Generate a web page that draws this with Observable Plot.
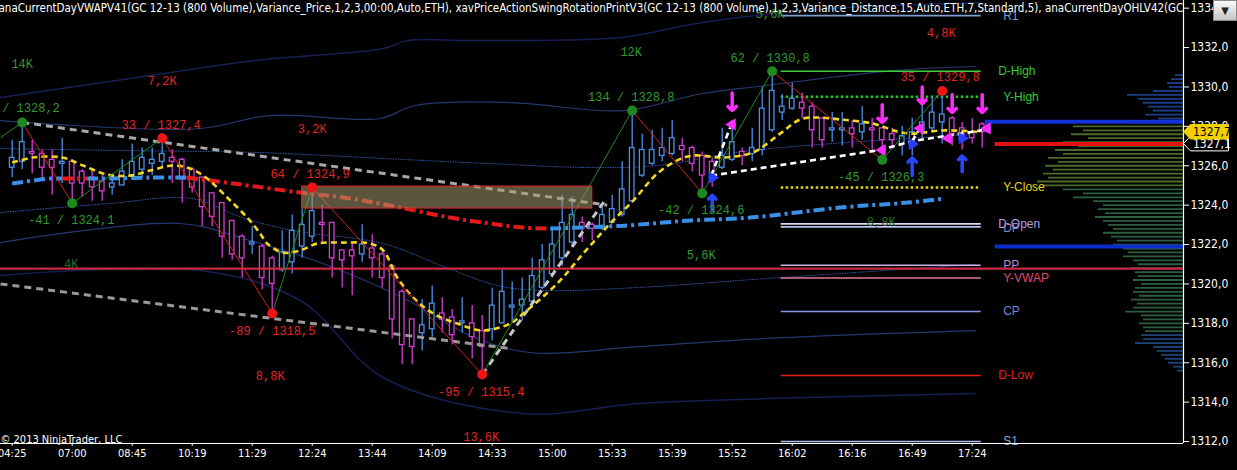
<!DOCTYPE html>
<html><head><meta charset="utf-8">
<script src="https://cdn.jsdelivr.net/npm/d3@7"></script>
<script src="https://cdn.jsdelivr.net/npm/@observablehq/plot@0.6"></script>
<style>
html,body{margin:0;padding:0;background:#000;overflow:hidden}
#wrap{position:relative;width:1237px;height:470px}
#wrap svg{position:absolute;left:0;top:0}
#btn{position:absolute;z-index:3;left:1213px;top:0;width:24px;height:21px;background:linear-gradient(#fafafa,#c4c4c4);border:1px solid #8a8a8a;box-sizing:border-box;font:10px "DejaVu Sans",sans-serif;color:#222;text-align:center;line-height:19px}
</style></head>
<body><div id="wrap"><div id="btn">▼</div></div>
<script>
// ---------------- data ----------------
const opens  = [1325.9,1326.2,1326.7,1326.6,1326.3,1326.1,1326.2,1325.7,1325.4,1325.2,1324.9,1325.0,1325.5,1325.8,1326.1,1326.2,1326.4,1326.3,1325.8,1325.4,1324.6,1324.1,1323.2,1322.4,1322.0,1321.9,1321.3,1320.7,1321.1,1321.9,1322.4,1323.1,1323.1,1321.7,1321.7,1321.5,1321.8,1321.5,1320.9,1319.6,1318.2,1317.5,1317.7,1318.5,1318.3,1318.0,1318.0,1317.6,1317.7,1318.0,1318.8,1318.9,1319.1,1319.8,1320.5,1321.3,1322.1,1323.1,1323.0,1322.8,1323.1,1323.5,1324.2,1325.5,1326.1,1326.5,1326.6,1327.0,1326.9,1326.5,1326.2,1325.9,1326.3,1326.7,1326.6,1326.8,1327.8,1328.7,1328.9,1329.2,1329.0,1328.4,1327.8,1327.8,1327.9,1327.7,1327.9,1327.9,1327.6,1327.1,1327.2,1327.7,1327.9,1328.2,1328.4,1327.9,1327.7,1328.1];
const highs  = [1327.3,1328.2,1327.3,1326.8,1326.8,1327.4,1326.3,1325.8,1325.8,1325.5,1325.6,1326.3,1327.1,1326.9,1326.9,1327.4,1326.8,1326.4,1325.9,1325.4,1324.6,1324.1,1323.2,1322.5,1322.9,1322.0,1321.4,1322.7,1323.5,1323.8,1324.9,1324.0,1323.1,1321.7,1322.1,1323.0,1322.5,1321.6,1321.0,1319.7,1318.2,1319.2,1319.9,1319.3,1318.7,1319.3,1318.9,1318.4,1319.8,1320.7,1320.1,1320.3,1321.3,1322.0,1322.9,1324.5,1324.4,1323.4,1323.1,1324.0,1324.5,1326.2,1328.8,1327.6,1327.8,1327.9,1328.3,1327.4,1327.0,1326.7,1326.4,1327.9,1328.3,1326.9,1327.9,1330.0,1330.8,1329.6,1330.2,1329.7,1329.2,1328.4,1328.7,1328.7,1328.3,1329.0,1328.4,1327.9,1327.9,1328.0,1328.4,1329.4,1329.5,1329.8,1328.5,1328.2,1328.4,1328.2];
const lows   = [1325.4,1325.8,1325.6,1325.3,1324.5,1325.1,1324.1,1324.4,1324.2,1324.2,1324.5,1325.0,1325.4,1325.4,1325.5,1325.9,1325.1,1324.1,1324.6,1322.9,1322.9,1321.3,1321.2,1320.3,1321.5,1319.7,1318.5,1320.6,1320.5,1321.3,1322.1,1322.0,1320.3,1319.8,1319.4,1321.1,1320.3,1319.8,1317.2,1315.9,1315.9,1316.6,1317.3,1317.5,1316.9,1317.5,1316.2,1315.4,1317.1,1318.0,1318.0,1318.1,1318.8,1319.7,1320.3,1320.9,1321.9,1322.1,1322.2,1322.7,1323.1,1323.4,1324.1,1325.4,1326.0,1326.2,1326.5,1326.2,1325.7,1324.6,1324.9,1325.8,1326.2,1326.0,1326.2,1326.5,1327.7,1328.3,1328.8,1328.4,1326.9,1326.9,1327.2,1327.0,1326.9,1327.3,1326.8,1326.3,1326.9,1326.5,1326.5,1327.4,1327.7,1327.1,1327.0,1326.8,1327.1,1326.9];
const closes = [1326.4,1327.2,1326.6,1325.9,1325.9,1326.2,1325.1,1325.1,1324.9,1324.7,1325.1,1325.7,1326.2,1326.4,1326.3,1326.6,1326.2,1325.3,1324.9,1323.9,1323.4,1322.4,1321.5,1321.3,1322.1,1320.3,1320.0,1321.6,1322.7,1323.0,1323.7,1323.0,1321.3,1321.2,1321.4,1322.0,1321.3,1320.3,1318.2,1316.9,1316.8,1317.9,1319.0,1318.2,1317.4,1318.1,1317.3,1316.8,1318.9,1319.6,1318.9,1319.2,1320.4,1321.2,1322.0,1323.1,1323.5,1322.8,1322.8,1323.5,1323.8,1324.8,1326.9,1326.8,1326.8,1326.9,1327.4,1326.8,1326.1,1325.5,1325.6,1326.5,1327.2,1326.5,1326.9,1328.9,1329.8,1329.0,1329.4,1328.9,1327.8,1327.3,1327.9,1327.9,1327.6,1328.1,1327.8,1327.3,1327.3,1327.5,1327.7,1328.2,1328.7,1328.6,1327.6,1327.3,1327.4,1327.7];

const tickBars   = [0,6,12,18,24,30,36,42,48,54,60,66,72,78,84,90,96];
const tickLabels = ["04:25","07:00","08:45","10:19","11:29","12:24","13:44","14:09","14:33","15:00","15:33","15:39","15:52","16:02","16:16","16:49","17:24"];
const priceTicks = [1312,1314,1316,1318,1320,1322,1324,1326,1328,1330,1332,1334];

// moving average (yellow dashed) knots: bar, price
const maBars   = [0,2.1,5,7.1,9.5,11.8,13.8,16.1,17.8,19.5,21.5,23.5,24.8,25.5,27.1,28.8,30.5,33.1,35.8,37.1,38.5,40.1,42.1,44.5,47.1,49.8,51.1,54.5,57.1,59.8,62.1,64.5,66.5,68.1,71.1,73.8,74.8,76.8,78.8,80.5,82.8,86.1,88.5,90.1,92.8,96.1,96.8];
const maPrices = [1326.16,1326.42,1326.42,1326.01,1325.55,1325.5,1325.76,1326.01,1325.86,1325.35,1324.39,1323.37,1322.56,1322.05,1321.59,1321.7,1322.05,1322.1,1322.05,1321.7,1320.33,1319.31,1318.5,1317.99,1317.64,1317.99,1318.5,1320.02,1321.54,1323.07,1324.23,1325.6,1326.27,1326.52,1326.42,1326.62,1326.87,1327.63,1328.35,1328.45,1328.35,1328.14,1327.74,1327.63,1327.79,1327.74,1327.69];

// VWAP (dash-dot) knots, segment ids (blue above / red below)
const vwapBars   = [0,3.8,5, 5,6.3,7.5, 7.5,8.8,13.8,17.5, 17.5,22.1,28.8,33.8,38.8,43.8,47.8,51.1,53.8, 53.8,61.1,67.8,73.8,82.8,89.5,93.3];
const vwapPrices = [1325.1,1325.35,1325.35, 1325.35,1325.35,1325.35, 1325.35,1325.35,1325.4,1325.4, 1325.4,1325.1,1324.64,1324.34,1323.88,1323.37,1323.07,1322.86,1322.81, 1322.81,1322.96,1323.22,1323.37,1323.88,1324.13,1324.34];
const vwapSeg    = [0,0,0, 1,1,1, 2,2,2,2, 3,3,3,3,3,3,3,3,3, 4,4,4,4,4,4,4];
const vwapSegSide= ["above","below","above","below","above"];

// deviation bands, each read as knots (bar, price)
const bandU3 = {bars:[-1.2,13.8,24.3,37.1,39.6,46.2,60.8,69,81.7,96.8], prices:[1329.46,1330.58,1331.34,1331.95,1332.36,1332.36,1332.51,1333.27,1333.98,1334.28]};
const bandU2 = {bars:[-1.2,18.6,25.7,36.8,40.3,49.8,61.1,69,75.3,88.1,96.3], prices:[1328.29,1327.88,1328.55,1328.4,1329.06,1329.21,1328.8,1329.67,1330.07,1330.83,1331.04]};
const bandU1 = {bars:[-1.2,11.8,24.8,37.1,47.8,57.8,64.5,73.8,96.3], prices:[1326.87,1326.77,1326.67,1326.37,1326.11,1325.91,1326.01,1326.77,1327.59]};
const bandL1 = {bars:[-1.2,9.6,17.9,23,28.1,37.1,43.4,48.5,53,62.6,75.3,96.3], prices:[1323.62,1324.08,1324.34,1323.37,1322.71,1322.05,1320.83,1319.92,1319.67,1319.82,1320.27,1320.99]};
const bandL2 = {bars:[-1.2,16.8,23.8,30.8,39.6,45.8,51.7,62.6,75.3,96.3], prices:[1322.1,1323.07,1322.2,1321.09,1319.16,1317.38,1316.52,1316.82,1317.23,1317.63]};
const bandL3 = {bars:[-1.2,18.8,28.8,37.1,51.1,62.6,75.3,96.3], prices:[1320.43,1320.68,1319.16,1315.25,1313.42,1313.93,1314.18,1314.44]};

// swing points
const swingBars   = [1,6,15,26,30,47,62,69,76,87,93];
const swingPrices = [1328.2,1324.1,1327.4,1318.5,1324.9,1315.4,1328.8,1324.6,1330.8,1326.3,1329.8];
const swingKind   = ["HH","HL","LH","LL","LH","LL","HH","HL","HH","HL","LH"];
const zigStart    = {bar:-1.17, price:1327.43};

// swing text labels
const lblText  = ["14K","7,2K","33 / 1327,4","3,2K","-41 / 1324,1","4K","64 / 1324,9","-89 / 1318,5","8,8K","-95 / 1315,4","13,6K","134 / 1328,8","12K","-42 / 1324,6","5,6K","5,6K","62 / 1330,8","4,8K","35 / 1329,8","-45 / 1326,3","8,8K"];
const lblBars  = [1.0,15.0,14.9,30.0,5.9,5.9,29.8,26.0,25.8,46.9,46.9,61.9,61.9,68.9,68.9,75.8,75.8,92.9,92.8,86.9,86.9];
const lblPrice = [1331.14,1330.32,1328.04,1327.84,1323.22,1320.99,1325.55,1317.58,1315.30,1314.49,1312.20,1329.46,1331.75,1323.73,1321.44,1333.68,1331.44,1332.71,1330.48,1325.40,1323.12];
const lblSide  = ["up","dn","dn","dn","up","dim","dn","dn","dn","dn","dn","up","up","up","up","up","up","dn","dn","up","dim"];

// trend lines
const grayLines = [
  {bars:[1,59.5],      prices:[1328.2,1324.0],  tone:"#a8a8a8"},
  {bars:[-1.17,49.8],  prices:[1320.0,1316.72], tone:"#9a9a9a"},
  {bars:[47,59.4],     prices:[1315.4,1324.34], tone:"#c8c8c8"}
];
const whiteLines = [
  {bars:[69.9,72.0],            prices:[1325.5,1328.2]},
  {bars:[69.9,86.8,90.0,97.0],  prices:[1325.5,1326.8,1327.25,1327.8]},
  {bars:[90.0,91.0],            prices:[1327.25,1328.1]}
];

// zone box
const zoneBar = [29.0,58.0], zonePrice = [1323.83,1324.94];

// rotation signals
const circBars   = [72.0,70.0,87.0,90.0,90.8,93.6,95.0,97.5];
const circPrices = [1328.1,1325.4,1326.8,1327.1,1327.9,1327.4,1327.4,1327.9];
const circR      = [11,11,11,11,10,11,11,14];
const circMark   = ["L","R","L","R","L","L","R","L"];
const dnArrowBars = [72,87,91,94,97], dnArrowTop = [1329.7,1329.1,1330.0,1329.6,1329.6], dnArrowTip = [1328.8,1328.2,1329.15,1328.7,1328.7];
const upArrowBars = [70,90,95],       upArrowBot = [1323.7,1325.5,1325.7],           upArrowTip = [1324.5,1326.4,1326.5];

// day levels (right side)
const lvlNames  = ["R1","D-High","Y-High","Y-Close","D-Open","DP","PP","Y-VWAP","CP","D-Low","S1"];
const lvlPrices = [1333.62,1330.8,1329.5,1324.9,1323.05,1322.9,1320.95,1320.3,1318.6,1315.35,1312.0];
const lvlLine   = ["#7f9ed0","#3ecf3e","#22c822","#e8d51a","#e2d6f2","#b8c4ee","#c8b4e4","#e27896","#8496e6","#e02020","#a8c4e6"];
const lvlText   = ["#7f9ed0","#33cc33","#33cc33","#e8d51a","#b49ee0","#8088d0","#b48ed0","#e04878","#6f88d4","#e02020","#86a6d0"];
const lvlDotted = [false,false,true,true,false,false,false,false,false,false,false];
const pivotPrice = 1320.78;           // full-width line
const sideBlueHi = 1328.24, sideRed = 1327.1, sideBlueLo = 1321.9;
const lastPrice = 1327.7, markPrice = 1327.1;

// volume profile (price, relative volume)
const profPrices = [1330.6,1330.4,1330.2,1330.0,1329.8,1329.6,1329.4,1329.2,1329.0,1328.8,1328.6,1328.4,1328.2,1328.0,1327.8,1327.6,1327.4,1327.2,1327.0,1326.8,1326.6,1326.4,1326.2,1326.0,1325.8,1325.6,1325.4,1325.2,1325.0,1324.8,1324.6,1324.4,1324.2,1324.0,1323.8,1323.6,1323.4,1323.2,1323.0,1322.8,1322.6,1322.4,1322.2,1322.0,1321.8,1321.6,1321.4,1321.2,1321.0,1320.8,1320.6,1320.4,1320.2,1320.0,1319.8,1319.6,1319.4,1319.2,1319.0,1318.8,1318.6,1318.4,1318.2,1318.0,1317.8,1317.6,1317.4,1317.2,1317.0,1316.8,1316.6,1316.4,1316.2,1316.0,1315.8,1315.6];
const profVols   = [8,12,16,14,30,56,45,40,35,30,38,25,55,110,100,112,95,120,105,128,120,135,125,138,130,140,135,146,140,120,100,110,90,80,85,78,88,80,75,70,80,72,66,70,60,55,60,50,45,52,48,45,50,42,48,50,44,52,46,50,58,42,40,44,40,38,42,40,48,30,26,22,18,15,10,6];

const titleText = "anaCurrentDayVWAPV41(GC 12-13 (800 Volume),Variance_Price,1,2,3,00:00,Auto,ETH), xavPriceActionSwingRotationPrintV3(GC 12-13 (800 Volume),1,2,3,Variance_Distance,15,Auto,ETH,7,Standard,5), anaCurrentDayOHLV42(GC 12-13 (800 Volume))";
const copyText = "© 2013 NinjaTrader, LLC";

// ---------------- build ----------------
const X0 = -1.17, X1 = 117.13;
const UP = "#4d8fe6", DN = "#d23fd2";
const GREEN = "#2f9a2f", RED = "#e42424";
const MONO = "'Liberation Mono','DejaVu Sans Mono',monospace";
const NARROW = "'Liberation Sans Narrow','Arial Narrow','DejaVu Sans Condensed','Liberation Sans',sans-serif";
const SANS = "'Liberation Sans',Arial,sans-serif";

const bars = opens.map((o, i) => ({i, o, h: highs[i], l: lows[i], c: closes[i]}));
const ma = maBars.map((b, i) => ({b, p: maPrices[i]}));
const vwap = vwapBars.map((b, i) => ({b, p: vwapPrices[i], seg: vwapSeg[i], col: vwapSegSide[vwapSeg[i]] === "above" ? "#3b8fe8" : "#e41a1a"}));
const band = (bd) => bd.bars.map((b, i) => ({b, p: bd.prices[i]}));
const swings = swingBars.map((b, i) => ({b, p: swingPrices[i], k: swingKind[i]}));
const zzPts = [{b: zigStart.bar, p: zigStart.price}, ...swings];
const legs = zzPts.slice(1).map((d, i) => ({b1: zzPts[i].b, p1: zzPts[i].p, b2: d.b, p2: d.p, col: d.p > zzPts[i].p ? "#1f8a1f" : "#d02020"}));
const labels = lblText.map((t, i) => ({t, b: lblBars[i], p: lblPrice[i], col: lblSide[i] === "up" ? GREEN : lblSide[i] === "dn" ? RED : "#2a6a2a"}));
const lines = (arr) => arr.flatMap((l, j) => l.bars.map((b, i) => ({b, p: l.prices[i], j, tone: l.tone})));
const circles = circBars.map((b, i) => ({b, p: circPrices[i], r: circR[i], m: circMark[i]}));
const dnArrows = dnArrowBars.map((b, i) => ({b, top: dnArrowTop[i], tip: dnArrowTip[i]}));
const upArrows = upArrowBars.map((b, i) => ({b, bot: upArrowBot[i], tip: upArrowTip[i]}));
const levels = lvlNames.map((n, i) => ({n, p: lvlPrices[i], lc: lvlLine[i], tc: lvlText[i], dotted: lvlDotted[i]}));
const profile = profPrices.map((p, i) => ({p, v: profVols[i],
  col: p >= 1328.3 ? "#1d3f86" : p > 1324.8 ? "#4b6a2c" : p > 1317.4 ? "#2c5e3c" : "#1d4478"}));
const labelMap = new Map(tickBars.map((b, i) => [b, tickLabels[i]]));
const fmt = d => d3.format(".1f")(d).replace(".", ",");

// price tag outline (pentagon pointing at the axis), in data units
const tagShape = (v) => [
  {x: X1 + 0.05, lo: v, hi: v},
  {x: X1 + 0.75, lo: v - 0.37, hi: v + 0.37},
  {x: X1 + 4.55, lo: v - 0.37, hi: v + 0.37}
];
const tagMarks = (v, fill, textFill, stroke) => [
  Plot.areaY(tagShape(v), {x: "x", y1: "lo", y2: "hi", fill, stroke, strokeWidth: 1, curve: "linear"}),
  Plot.text([fmt(v)], {x: X1 + 0.95, y: v, text: d => d, fill: textFill, fontSize: 12, fontFamily: NARROW, textAnchor: "start"})
];

const cap = {strokeLinecap: "butt", strokeLinejoin: "miter"};

const chart = Plot.plot({
  width: 1237, height: 470,
  marginLeft: 0, marginRight: 54, marginTop: 0, marginBottom: 27,
  style: {background: "#000", color: "#fff", fontFamily: SANS, overflow: "visible"},
  x: {domain: [X0, X1], axis: null},
  y: {domain: [1311.90, 1334.39], axis: null},
  color: {type: "identity"},
  marks: [
    // volume profile
    Plot.ruleY(profile, {y: "p", x1: X1, x2: d => X1 - d.v / 10, stroke: "col", strokeWidth: 1.8}),
    // bands
    Plot.line(band(bandU3), {x: "b", y: "p", stroke: "#161f52", strokeWidth: 1.5, curve: "catmull-rom"}),
    Plot.line(band(bandL3), {x: "b", y: "p", stroke: "#161f52", strokeWidth: 1.5, curve: "catmull-rom"}),
    Plot.line(band(bandU2), {x: "b", y: "p", stroke: "#26386f", strokeWidth: 1.2, curve: "catmull-rom"}),
    Plot.line(band(bandL2), {x: "b", y: "p", stroke: "#26386f", strokeWidth: 1.2, curve: "catmull-rom"}),
    Plot.line(band(bandU1), {x: "b", y: "p", stroke: "#3557a8", strokeWidth: 1, strokeDasharray: "1.5,1", curve: "catmull-rom", ...cap}),
    Plot.line(band(bandL1), {x: "b", y: "p", stroke: "#3557a8", strokeWidth: 1, strokeDasharray: "1.5,1", curve: "catmull-rom", ...cap}),
    // day levels
    Plot.ruleY(levels.filter(d => !d.dotted), {y: "p", x1: 76.9, x2: 96.9, stroke: "lc", strokeWidth: 1.6}),
    Plot.ruleY(levels.filter(d => d.dotted), {y: "p", x1: 76.9, x2: 96.9, stroke: "lc", strokeWidth: 2.6, strokeDasharray: "2.5,2.5", ...cap}),
    Plot.text(levels, {x: d => d.n === "D-High" || d.n === "D-Low" || d.n === "D-Open" ? 98.6 : 99.1, y: d => d.n === "DP" ? d.p - 0.05 : d.p, text: "n", fill: "tc", textAnchor: "start", fontSize: 12, fontFamily: SANS}),
    // candles
    Plot.ruleX(bars, {x: "i", y1: "l", y2: "h", stroke: d => d.c >= d.o ? UP : DN, strokeWidth: 1.3}),
    Plot.rect(bars, {x1: d => d.i - 0.23, x2: d => d.i + 0.23, y1: "o", y2: d => Math.abs(d.c - d.o) < 0.08 ? d.o + (d.c >= d.o ? 0.08 : -0.08) : d.c, fill: "#000", stroke: d => d.c >= d.o ? UP : DN, strokeWidth: 1.3}),
    // full width pivot line
    Plot.ruleY([pivotPrice], {x1: X0, x2: X1, stroke: "#c92a45", strokeWidth: 2.2}),
    // right side thick lines
    Plot.ruleY([sideBlueHi], {x1: 97.3, x2: X1, stroke: "#1232d8", strokeWidth: 4}),
    Plot.ruleY([sideRed], {x1: 98.3, x2: X1, stroke: "#e21212", strokeWidth: 4}),
    Plot.ruleY([sideBlueLo], {x1: 98.3, x2: X1, stroke: "#0b2ccc", strokeWidth: 4}),
    // gray trend lines
    Plot.line(lines(grayLines), {x: "b", y: "p", z: "j", stroke: "tone", strokeWidth: 3, strokeDasharray: "7,5", ...cap}),
    // VWAP dash-dot
    Plot.line(vwap, {x: "b", y: "p", z: "seg", stroke: "col", strokeWidth: 4, strokeDasharray: "11,4,3,4", curve: "catmull-rom", ...cap}),
    // moving average
    Plot.line(ma, {x: "b", y: "p", stroke: "#f2d622", strokeWidth: 2.6, strokeDasharray: "6,4", curve: "catmull-rom", ...cap}),
    // zigzag
    Plot.link(legs, {x1: "b1", y1: "p1", x2: "b2", y2: "p2", stroke: "col", strokeWidth: 1}),
    // zone box
    Plot.rect([0], {x1: zoneBar[0], x2: zoneBar[1], y1: zonePrice[0], y2: zonePrice[1], fill: "#a89a70", fillOpacity: 0.55, stroke: "#c83030", strokeWidth: 1.2}),
    // white dashed
    Plot.line(lines(whiteLines), {x: "b", y: "p", z: "j", stroke: "#ffffff", strokeWidth: 2.6, strokeDasharray: "6,4", ...cap}),
    // rotation circles
    Plot.dot(circles, {x: "b", y: "p", r: "r", fill: "#6e5c1c", fillOpacity: 0.92, stroke: "#2f4fe0", strokeWidth: 1.6}),
    Plot.dot(circles, {x: "b", y: "p", r: 4.5, symbol: "triangle", rotate: d => d.m === "L" ? -90 : 90, fill: d => d.m === "L" ? "#ff2cff" : "#2a3cff", stroke: "none"}),
    Plot.arrow(dnArrows, {x1: "b", x2: "b", y1: "top", y2: "tip", stroke: "#ff2cff", strokeWidth: 3.5, headLength: 8, headAngle: 90}),
    Plot.arrow(upArrows, {x1: "b", x2: "b", y1: "bot", y2: "tip", stroke: "#2848ff", strokeWidth: 3.5, headLength: 8, headAngle: 90}),
    // swing dots
    Plot.dot(swings, {x: "b", y: "p", r: 5, fill: d => d.k === "HH" || d.k === "HL" ? "#1c8a1c" : "#f01414", stroke: "none"}),
    // swing labels
    Plot.text(labels, {x: "b", y: "p", text: "t", fill: "col", fontFamily: MONO, fontSize: 12}),
    Plot.text(["/ 1328,2"], {x: -1.0, y: 1328.9, text: d => d, fill: GREEN, fontFamily: MONO, fontSize: 12, textAnchor: "start"}),
    // axes
    Plot.ruleX([X1], {y1: 1311.90, y2: 1334.39, stroke: "#fff", strokeWidth: 1.2}),
    Plot.ruleY([1311.90], {x1: X0, x2: X1, stroke: "#fff", strokeWidth: 1.2}),
    Plot.axisY({anchor: "right", ticks: priceTicks, tickFormat: fmt, tickSize: 5, tickPadding: 2, fontSize: 12, fontFamily: NARROW}),
    Plot.axisX({anchor: "bottom", ticks: tickBars, tickFormat: d => labelMap.get(d), tickSize: 3, tickPadding: 3, fontSize: 11, fontFamily: NARROW}),
    // price tags
    ...tagMarks(markPrice, "#000", "#fff", "#fff"),
    ...tagMarks(lastPrice, "#f2d000", "#000", "#f2d000"),
    // title and copyright
    Plot.text([titleText], {frameAnchor: "top-left", dx: -2, dy: 3, text: d => d, fill: "#fff", fontSize: 11.5, fontFamily: NARROW, textAnchor: "start", clip: true}),
    Plot.text([copyText], {frameAnchor: "bottom-left", dx: 0, dy: -1, text: d => d, fill: "#fff", fontSize: 11, fontFamily: NARROW, textAnchor: "start"})
  ]
});
document.getElementById("wrap").prepend(chart);
</script></body></html>
